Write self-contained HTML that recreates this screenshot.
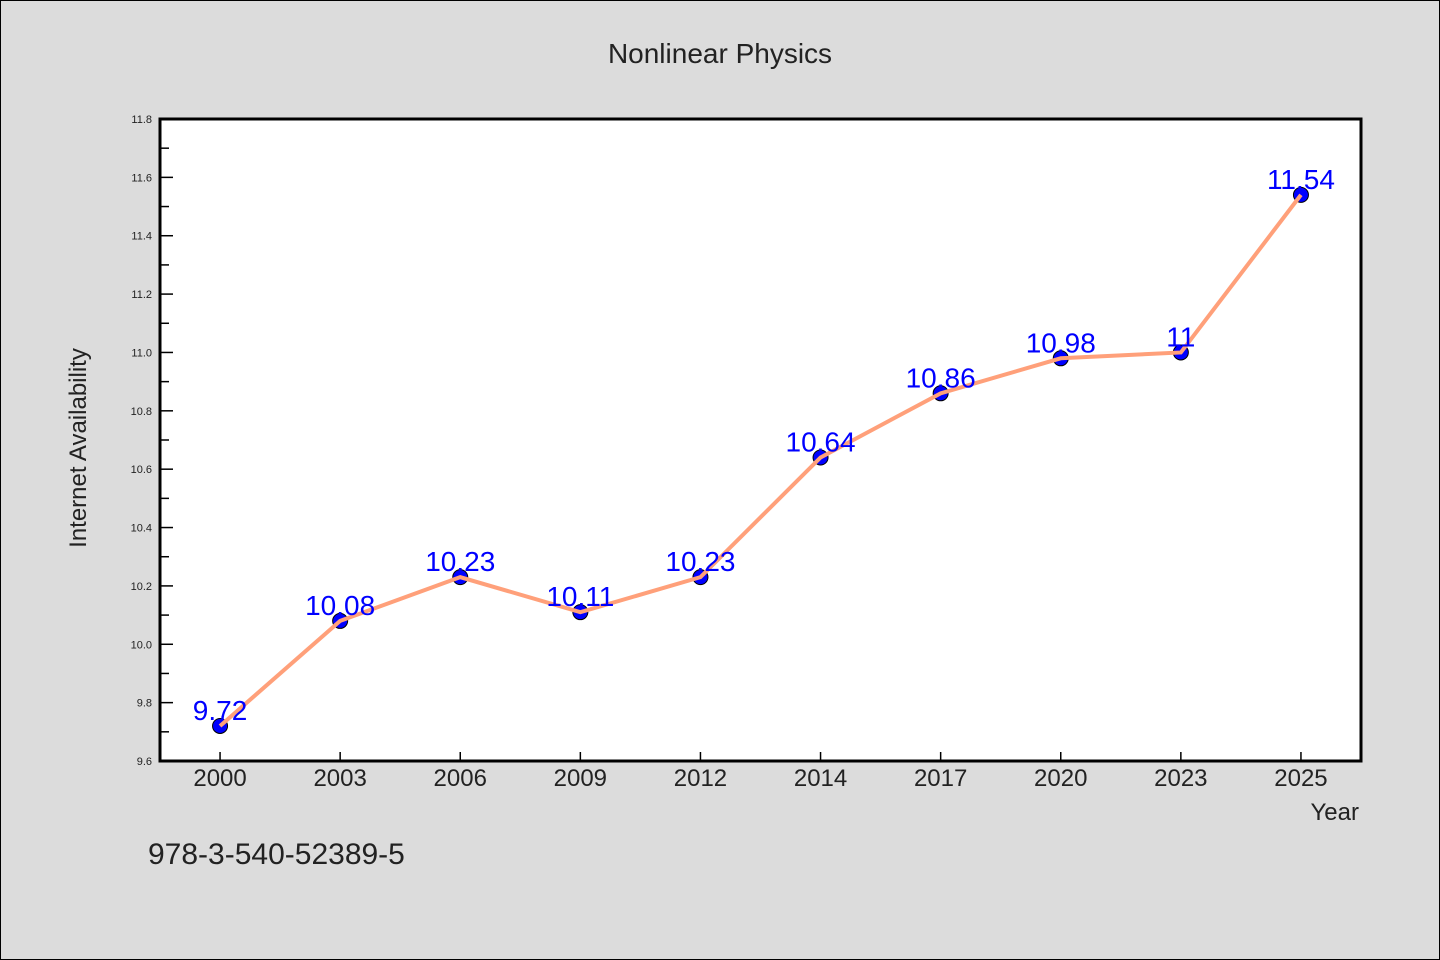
<!DOCTYPE html>
<html><head><meta charset="utf-8"><style>
body{margin:0;background:#dcdcdc;}
svg{display:block;font-family:"WenQuanYi Zen Hei","Liberation Sans",sans-serif;}
</style></head><body>
<svg id="c" width="1440" height="960">
<rect x="0.5" y="0.5" width="1439" height="959" fill="#dcdcdc" stroke="#000" stroke-width="1"/>
<text x="720" y="63" text-anchor="middle" font-size="28" fill="#222">Nonlinear Physics</text>
<rect x="160" y="119" width="1201" height="642" fill="#fff"/>
<g id="g"></g>
<rect x="160" y="119" width="1201" height="642" fill="none" stroke="#000" stroke-width="3"/>
<text x="86" y="448" transform="rotate(-90 86 448)" text-anchor="middle" font-size="24" fill="#222">Internet Availability</text>
<text x="1359" y="820" text-anchor="end" font-size="24" fill="#222">Year</text>
<text x="148" y="864" font-size="30" fill="#222">978-3-540-52389-5</text>
</svg>
<script>
const categories=["2000","2003","2006","2009","2012","2014","2017","2020","2023","2025"];
const values=[9.72,10.08,10.23,10.11,10.23,10.64,10.86,10.98,11,11.54];
const valueLabels=["9.72","10.08","10.23","10.11","10.23","10.64","10.86","10.98","11","11.54"];
const yTicks=[9.6,9.8,10.0,10.2,10.4,10.6,10.8,11.0,11.2,11.4,11.6,11.8];
const L=160,R=1361,T=119,B=761,ymin=9.6,ymax=11.8;
const xs=i=>L+(R-L)/categories.length*(i+0.5);
const ys=v=>B-(v-ymin)/(ymax-ymin)*(B-T);
const g=document.getElementById('g');
const NS="http://www.w3.org/2000/svg";
function mk(t,a){const e=document.createElementNS(NS,t);for(const k in a)e.setAttribute(k,a[k]);g.appendChild(e);return e;}
yTicks.forEach((v,i)=>{
 const t=mk('line',{x1:L,x2:L+13,y1:ys(v),y2:ys(v),stroke:'#000','stroke-width':1.5});
 
 
 if(i<yTicks.length-1){const m=mk('line',{x1:L,x2:L+9,y1:ys(v+0.1),y2:ys(v+0.1),stroke:'#000','stroke-width':1.5});
 
 }
 const l=mk('text',{x:L-8,y:ys(v)+4,'text-anchor':'end','font-size':11,fill:'#222'});
 l.textContent=v.toFixed(1);
 
 
});
categories.forEach((c,i)=>{
 const t=mk('line',{x1:xs(i),x2:xs(i),y1:B,y2:B-9,stroke:'#000','stroke-width':1.5});
 
 
 const l=mk('text',{x:xs(i),y:B+25,'text-anchor':'middle','font-size':24,fill:'#222'});
 l.textContent=c;
 
 
});
values.forEach((v,i)=>{
 const p=mk('circle',{cx:xs(i),cy:ys(v),r:7.5,fill:'#0000ff',stroke:'#000','stroke-width':1});
 
 
});
const line=mk('polyline',{points:values.map((v,i)=>xs(i)+','+ys(v)).join(' '),fill:'none',stroke:'#ffa07a','stroke-width':4});


values.forEach((v,i)=>{
 const l=mk('text',{x:xs(i),y:ys(v)-6,'text-anchor':'middle','font-size':28,fill:'#0000ff'});
 l.textContent=valueLabels[i];
 
 
});
</script>
</body></html>
